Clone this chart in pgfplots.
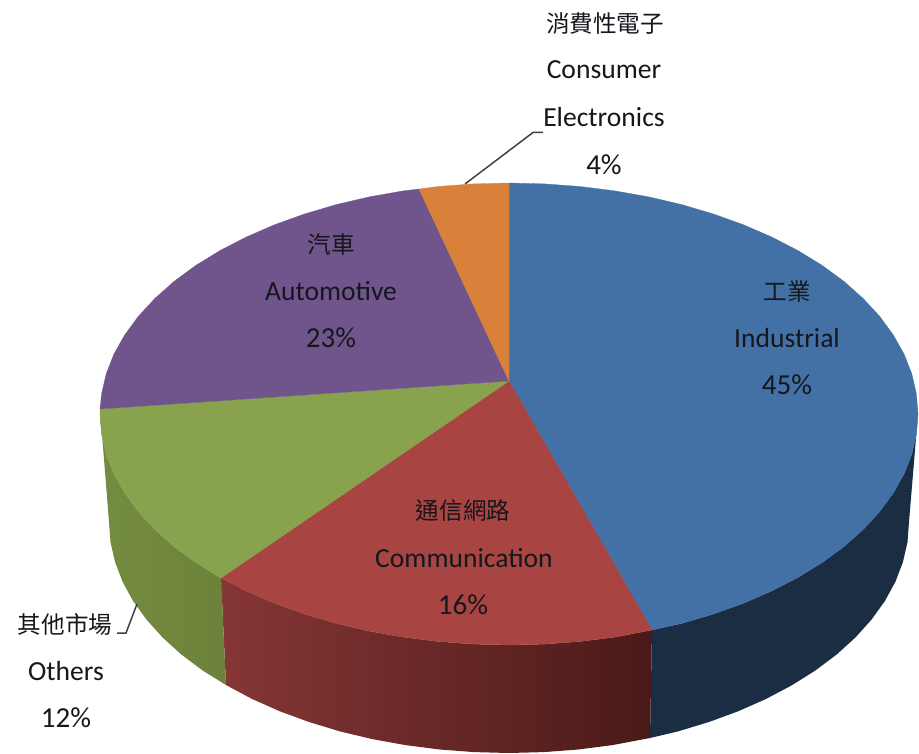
\documentclass[border=0pt]{standalone}
\usepackage{fontspec}
\usepackage{pgfplots}
\pgfplotsset{compat=1.18}
\setmainfont{Carlito}
\newfontfamily\cjk{Noto Sans CJK TC}
\newcommand{\cj}[1]{{\fontsize{23.6}{30}\selectfont\cjk #1}}
\newcommand{\pc}[1]{{\fontsize{29}{30}\selectfont #1}}
\definecolor{cblue}{HTML}{4371A5}
\definecolor{cred}{HTML}{A84542}
\definecolor{cgreen}{HTML}{88A24E}
\definecolor{cpurple}{HTML}{70558D}
\definecolor{corange}{HTML}{D9813A}
\definecolor{sblue}{HTML}{1B2D43}
\definecolor{sredL}{HTML}{853635}
\definecolor{sredM}{HTML}{682B29}
\definecolor{sredR}{HTML}{4A1A18}
\definecolor{sgreenL}{HTML}{748C40}
\definecolor{sgreenR}{HTML}{6C823A}
\definecolor{txt}{HTML}{14171B}
\begin{document}
\begin{tikzpicture}
\begin{axis}[
  scale only axis, width=919pt, height=754pt,
  xmin=0, xmax=919, ymin=0, ymax=754, y dir=reverse,
  hide axis, no markers, clip=false,
  nodes={font=\fontsize{27.6}{30}\selectfont, text=txt, inner sep=0pt, anchor=center},
]
% side walls
\addplot[draw=none, fill=sblue] coordinates {
(652,630)(681.8,623.4)(713.5,614)(743.6,603.2)(771.9,590.9)(798.2,577.3)(822.3,562.5)(844.1,546.5)(863.2,529.5)(879.7,511.6)(893.3,493)(904.1,473.8)(911.8,454.1)(916.4,434.1)(918,414)
(909,522)(907.5,542.1)(902.9,562.1)(895.4,581.8)(884.9,601)(871.5,619.6)(855.4,637.5)(836.7,654.5)(815.4,670.5)(791.8,685.3)(766.1,698.9)(738.4,711.2)(709,722)(678,731.4)(650,738)} --cycle;
\addplot[draw=none, left color=sredL, middle color=sredM, right color=sredR] coordinates {
(221,578)(246.1,590.9)(274.4,603.2)(304.5,614)(336.2,623.4)(369.1,631.1)(403.1,637.1)(438,641.5)(473.3,644.1)(509,645)(544.7,644.1)(580,641.5)(614.9,637.1)(652,630)
(650,738)(612.5,745.1)(578.4,749.5)(543.9,752.1)(509,753)(474.1,752.1)(439.6,749.5)(405.5,745.1)(372.2,739.1)(340,731.4)(309,722)(279.6,711.2)(251.9,698.9)(226,685)} --cycle;
\addplot[draw=none, left color=sgreenL, right color=sgreenR] coordinates {
(100,409)(100,414)(101.6,434.1)(106.2,454.1)(113.9,473.8)(124.7,493)(138.3,511.6)(154.8,529.5)(173.9,546.5)(195.7,562.5)(221,578)
(226,685)(202.6,670.5)(181.3,654.5)(162.6,637.5)(146.5,619.6)(133.1,601)(122.6,581.8)(115.1,562.1)(110.5,542.1)(109,522)} --cycle;
% top slices
\addplot[fill=cblue, draw=cblue, line width=0.3pt] coordinates {
(509,381)(509,183)(544.7,183.9)(580,186.5)(614.9,190.9)(648.9,196.9)(681.8,204.6)(713.5,214)(743.6,224.8)(771.9,237.1)(798.2,250.7)(822.3,265.5)(844.1,281.5)(863.2,298.5)(879.7,316.4)(893.3,335)(904.1,354.2)(911.8,373.9)(916.4,393.9)(918,414)(916.4,434.1)(911.8,454.1)(904.1,473.8)(893.3,493)(879.7,511.6)(863.2,529.5)(844.1,546.5)(822.3,562.5)(798.2,577.3)(771.9,590.9)(743.6,603.2)(713.5,614)(681.8,623.4)(652,630)} --cycle;
\addplot[fill=cred, draw=cred, line width=0.3pt] coordinates {
(509,381)(652,630)(614.9,637.1)(580,641.5)(544.7,644.1)(509,645)(473.3,644.1)(438,641.5)(403.1,637.1)(369.1,631.1)(336.2,623.4)(304.5,614)(274.4,603.2)(246.1,590.9)(221,578)} --cycle;
\addplot[fill=cgreen, draw=cgreen, line width=0.3pt] coordinates {
(509,381)(221,578)(195.7,562.5)(173.9,546.5)(154.8,529.5)(138.3,511.6)(124.7,493)(113.9,473.8)(106.2,454.1)(101.6,434.1)(100,414)(100,409)} --cycle;
\addplot[fill=cpurple, draw=cpurple, line width=0.3pt] coordinates {
(509,381)(100,409)(101.6,393.9)(106.2,373.9)(113.9,354.2)(124.7,335)(138.3,316.4)(154.8,298.5)(173.9,281.5)(195.7,265.5)(219.8,250.7)(246.1,237.1)(274.4,224.8)(304.5,214)(336.2,204.6)(369.1,196.9)(403.1,190.9)(419,189)} --cycle;
\addplot[fill=corange, draw=corange, line width=0.3pt] coordinates {
(509,381)(419,189)(438,186.5)(473.3,183.9)(509,183)} --cycle;
% leader lines
\addplot[draw=black!75, line width=1.5pt] coordinates {(465,184)(533,132.5)(543,132.5)};
\addplot[draw=black!75, line width=1.5pt] coordinates {(137,604)(126,633)(117,633)};
% labels
\node at (axis cs:787,292) {\cj{工業}};
\node at (axis cs:787,338) {Industrial};
\node at (axis cs:787,385) {\pc{45\%}};
\node at (axis cs:331,245) {\cj{汽車}};
\node at (axis cs:331,291) {Automotive};
\node at (axis cs:331,338) {\pc{23\%}};
\node at (axis cs:463,511) {\cj{通信網路}};
\node at (axis cs:464,558) {Communication};
\node at (axis cs:463,605) {\pc{16\%}};
\node at (axis cs:605,24) {\cj{消費性電子}};
\node at (axis cs:604,70) {Consumer};
\node at (axis cs:604,117) {Electronics};
\node at (axis cs:604,165) {\pc{4\%}};
\node at (axis cs:65,624) {\cj{其他市場}};
\node at (axis cs:66,671) {Others};
\node at (axis cs:66,718) {\pc{12\%}};
\path[use as bounding box] (axis cs:0,0) rectangle (axis cs:919,754);
\end{axis}
\end{tikzpicture}
\end{document}
